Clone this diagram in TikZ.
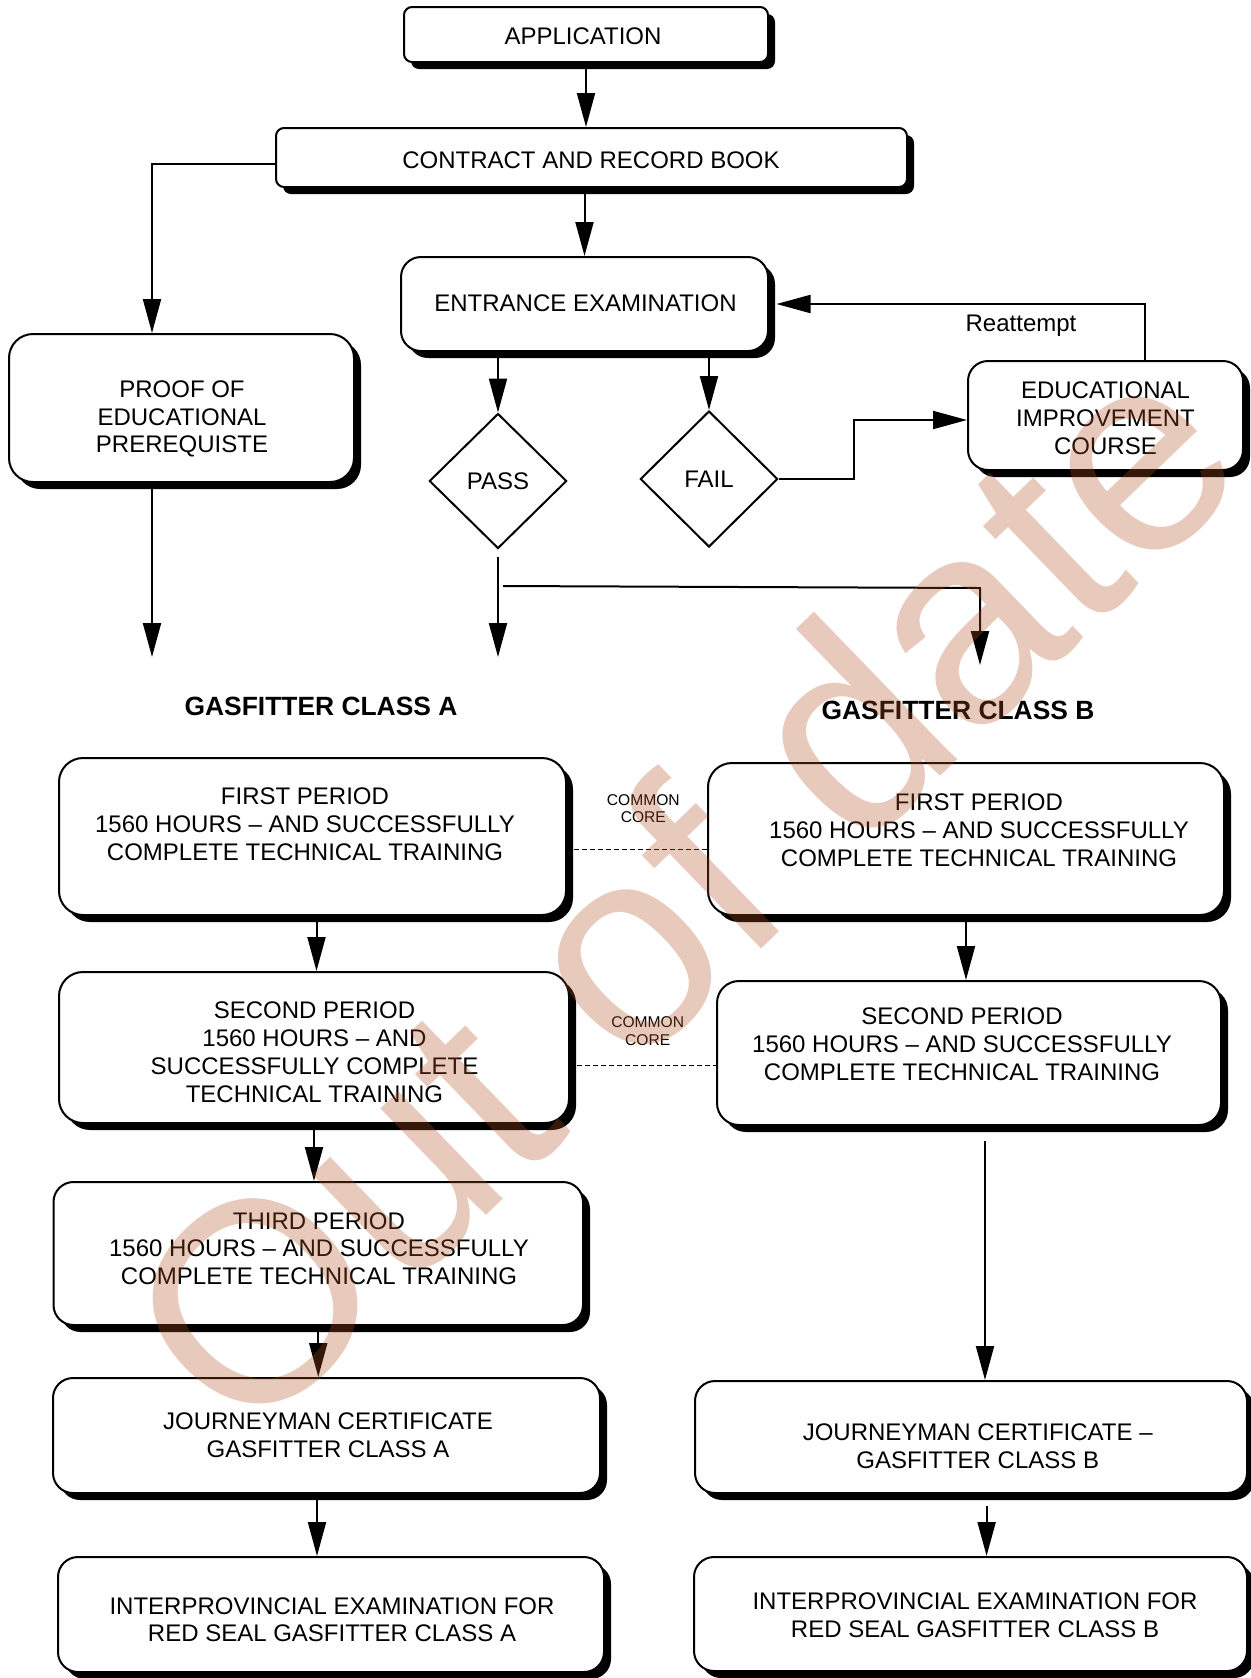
\documentclass[tikz,border=0pt]{standalone}
\usepackage{fontspec}
\setmainfont{Liberation Sans}
\usetikzlibrary{arrows.meta,shapes.geometric,fit,calc}
\definecolor{wmcol}{RGB}{182,82,38}
\newcommand{\mybox}[6]{%
  \fill[black, rounded corners=#6] (#2+7,#3+7) rectangle (#4+7,#5+7);
  \node[draw, fill=white, line width=1pt, rounded corners=#6, fit={(#2,#3)(#4,#5)}, inner sep=0pt] (#1) {};
}
\begin{document}
\begin{tikzpicture}[x=0.5pt,y=-0.5pt,
  txt/.style={font=\fontsize{12}{13.9}\selectfont, align=center, inner sep=0pt},
  small/.style={font=\fontsize{7.8}{8.7}\selectfont, align=center, inner sep=0pt},
  head/.style={font=\bfseries\fontsize{13.2}{15}\selectfont, inner sep=0pt},
  arr/.style={line width=1pt, -{Triangle[length=17pt,width=9pt]}},
  dia/.style={diamond, draw, line width=1pt, fill=white, minimum width=68.7pt, minimum height=67.5pt, inner sep=0pt, font=\fontsize{12}{13.9}\selectfont},
  cc/.style={line width=0.5pt, dash pattern=on 2.5pt off 1.5pt}
]
\useasboundingbox (0,0) rectangle (1251,1678);
\fill[white] (0,0) rectangle (1251,1678);

% top part
\mybox{APP}{404}{7}{768}{62}{4pt}
\node[txt] (APPt) at (583,36.7) {APPLICATION};
\mybox{CON}{276}{128}{907}{187}{4pt}
\node[txt] (CONt) at (591,160) {CONTRACT AND RECORD BOOK};
\mybox{ENT}{401}{257}{768}{351}{10pt}
\node[txt] (ENTt) at (585.5,303.3) {ENTRANCE EXAMINATION};
\mybox{PRF}{9}{334}{354}{482}{12pt}
\node[txt] (PRFt) at (182,419) {PROOF OF\\EDUCATIONAL\\PREREQUISTE};
\mybox{EIC}{968}{361}{1243}{470}{10pt}
\node[txt] (EICt) at (1105.5,418) {EDUCATIONAL\\IMPROVEMENT\\COURSE};
\node[dia] (PASS) at (498,481) {PASS};
\node[dia, minimum height=68pt] (FAIL) at (709,479) {FAIL};
\node[txt] (RE) at (1021,326) {Reattempt};

\node[head] (GA) at (321,706.5) {GASFITTER CLASS A};
\node[head] (GB) at (958,710) {GASFITTER CLASS B};

% class A column
\mybox{A1}{59}{758}{566}{915}{12pt}
\node[txt] (A1t) at (305,824) {FIRST PERIOD\\1560 HOURS – AND SUCCESSFULLY\\COMPLETE TECHNICAL TRAINING};
\mybox{A2}{59}{972}{569}{1123}{12pt}
\node[txt] (A2t) at (314.5,1052.3) {SECOND PERIOD\\1560 HOURS – AND\\SUCCESSFULLY COMPLETE\\TECHNICAL TRAINING};
\mybox{A3}{53.5}{1182}{583}{1325}{10pt}
\node[txt] (A3t) at (319,1248.7) {THIRD PERIOD\\1560 HOURS – AND SUCCESSFULLY\\COMPLETE TECHNICAL TRAINING};
\mybox{JA}{53}{1378}{600}{1493}{10pt}
\node[txt] (JAt) at (328,1435.4) {JOURNEYMAN CERTIFICATE\\GASFITTER CLASS A};
\mybox{IA}{58}{1557}{604}{1672}{10pt}
\node[txt] (IAt) at (332,1619.7) {INTERPROVINCIAL EXAMINATION FOR\\RED SEAL GASFITTER CLASS A};

% class B column
\mybox{B1}{708}{763}{1224}{915}{12pt}
\node[txt] (B1t) at (979,830.5) {FIRST PERIOD\\1560 HOURS – AND SUCCESSFULLY\\COMPLETE TECHNICAL TRAINING};
\mybox{B2}{717}{981}{1221}{1125}{11pt}
\node[txt] (B2t) at (962,1044.5) {SECOND PERIOD\\1560 HOURS – AND SUCCESSFULLY\\COMPLETE TECHNICAL TRAINING};
\mybox{JB}{695}{1381}{1247}{1493}{10pt}
\node[txt] (JBt) at (977.7,1446.4) {JOURNEYMAN CERTIFICATE –\\GASFITTER CLASS B};
\mybox{IB}{694}{1557}{1247}{1671}{10pt}
\node[txt] (IBt) at (975,1615) {INTERPROVINCIAL EXAMINATION FOR\\RED SEAL GASFITTER CLASS B};

% common core
\node[small] (cc1) at (643.3,808.7) {COMMON\\CORE};
\node[small] (cc2) at (647.7,1031.3) {COMMON\\CORE};
\draw[cc] ([xshift=3.5pt,yshift=-6.4pt]A1.east) -- ([yshift=-6.4pt]A1.east -| B1.west);
\draw[cc] ([xshift=3.5pt,yshift=-8.75pt]A2.east) -- ([yshift=-8.75pt]A2.east -| B2.west);

% connectors
\coordinate (pA) at (152,657);
\coordinate (pP) at (498,657);
\coordinate (br) at (503,586);
\coordinate (brc) at (980,588);
\coordinate (pB) at (980,665);
\draw[arr] (APP.south) -- (APP.south |- CON.north);
\draw[arr] (CON.south -| ENT.north) -- (ENT.north);
\draw[arr] ([yshift=-3pt]CON.west) -| ([xshift=-14.75pt]PRF.north);
\draw[arr] ([xshift=-14.75pt]PRF.south) -- (pA);
\draw[arr] (ENT.south -| PASS.north) -- (PASS.north);
\draw[arr] (ENT.south -| FAIL.north) -- (FAIL.north);
\draw[arr] (FAIL.east) -- ++(75,0) |- ([yshift=-2.25pt]EIC.west);
\draw[arr] ([xshift=19.75pt]EIC.north) |- ([xshift=3.75pt]ENT.east);
\draw[arr] ([yshift=-3.7pt]PASS.south) -- (pP);
\draw[arr] (br) -- (brc) -- (pB);

\draw[arr] ([xshift=2pt]A1.south) -- ([xshift=2pt]A1.south |- A2.north);
\draw[arr] (A2.south) -- (A2.south |- A3.north);
\draw[arr] (A3.south) -- (A3.south |- JA.north);
\draw[arr] ([xshift=-4.75pt]JA.south) -- ([xshift=-4.75pt]JA.south |- IA.north);

\draw[arr] (B1.south) -- (B1.south |- B2.north);
\draw[arr] ([xshift=8pt,yshift=-7.5pt]B2.south) -- ([xshift=8pt]B2.south |- JB.north);
\draw[arr] ([xshift=7.8pt,yshift=-6pt]JB.south) -- ([xshift=7.8pt]JB.south |- IB.north);

% watermark
\node[anchor=base west, rotate=44, inner sep=0pt, text=wmcol, text opacity=0.3, font=\fontsize{142}{142}\selectfont] (wm) at (244,1449) {Out of date};
\end{tikzpicture}
\end{document}
